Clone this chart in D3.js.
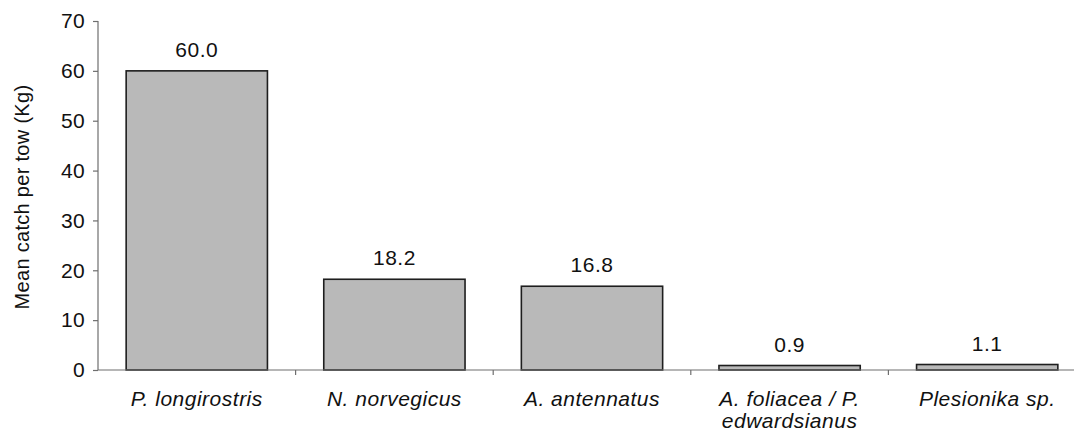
<!DOCTYPE html>
<html><head><meta charset="utf-8">
<script src="https://cdn.jsdelivr.net/npm/d3@7"></script>
<style>body{margin:0;background:#fff}svg{display:block}text{font-family:"Liberation Sans",Arial,sans-serif}</style>
</head><body><svg id="c" width="1074" height="434"></svg>
<script>
const categories = [["P. longirostris"],["N. norvegicus"],["A. antennatus"],["A. foliacea / P.","edwardsianus"],["Plesionika sp."]];
const values = [60.0, 18.2, 16.8, 0.9, 1.1];
const valueLabels = ["60.0","18.2","16.8","0.9","1.1"];
const yTicks = [0,10,20,30,40,50,60,70];

const svg = d3.select("#c");
const x = d3.scaleBand().domain(d3.range(categories.length)).range([98, 1086]).paddingInner(0.285).paddingOuter(0.1425);
const y = d3.scaleLinear().domain([0,70]).range([370, 21]);
const axisColor = "#6e6e6e";

// bars
svg.selectAll("rect.bar").data(values).join("rect")
  .attr("x",(d,i)=>x(i)).attr("width",x.bandwidth())
  .attr("y",d=>y(d)).attr("height",d=>y(0)-y(d))
  .attr("fill","#b9b9b9").attr("stroke","#1e1e1e").attr("stroke-width",1.6);

// value labels
svg.selectAll("text.val").data(values).join("text")
  .attr("x",(d,i)=>x(i)+x.bandwidth()/2).attr("y",d=>y(d)-14)
  .attr("text-anchor","middle").attr("font-size",21).attr("letter-spacing",0.5).attr("fill","#111")
  .text((d,i)=>valueLabels[i]);

// y axis
const ya = svg.append("g").attr("transform","translate(98,0)")
  .call(d3.axisLeft(y).tickValues(yTicks).tickSize(5).tickPadding(8).tickFormat(d3.format("d")));
ya.select(".domain").attr("stroke",axisColor).attr("stroke-width",1.2).attr("d","M0,"+y(70)+"V"+y(0));
ya.selectAll(".tick line").attr("stroke",axisColor).attr("stroke-width",1.2);
ya.selectAll(".tick text").attr("font-size",21).attr("letter-spacing",0.3).attr("fill","#111").attr("font-family","'Liberation Sans',Arial,sans-serif");

// x axis line and ticks at band boundaries
const xa = svg.append("g");
xa.append("line").attr("x1",98).attr("x2",1074).attr("y1",y(0)).attr("y2",y(0)).attr("stroke",axisColor).attr("stroke-width",1.2);
const step = x.step();
xa.selectAll("line.t").data(d3.range(1,categories.length)).join("line")
  .attr("x1",i=>x(i)-x.paddingInner()*step/2).attr("x2",i=>x(i)-x.paddingInner()*step/2)
  .attr("y1",y(0)).attr("y2",y(0)+5).attr("stroke",axisColor).attr("stroke-width",1.2);

// category labels
const cl = svg.selectAll("text.cat").data(categories).join("text")
  .attr("x",(d,i)=>x(i)+x.bandwidth()/2).attr("y",406)
  .attr("text-anchor","middle").attr("font-size",21).attr("letter-spacing",0.5).attr("font-style","italic").attr("fill","#111");
cl.selectAll("tspan").data(d=>d).join("tspan")
  .attr("x",function(){return this.parentNode.getAttribute("x");})
  .attr("dy",(d,j)=>j===0?0:22).text(d=>d);

// y title
svg.append("text").attr("transform","translate(29,197) rotate(-90)")
  .attr("text-anchor","middle").attr("font-size",20).attr("letter-spacing",0.3).attr("fill","#111")
  .text("Mean catch per tow (Kg)");
</script></body></html>
